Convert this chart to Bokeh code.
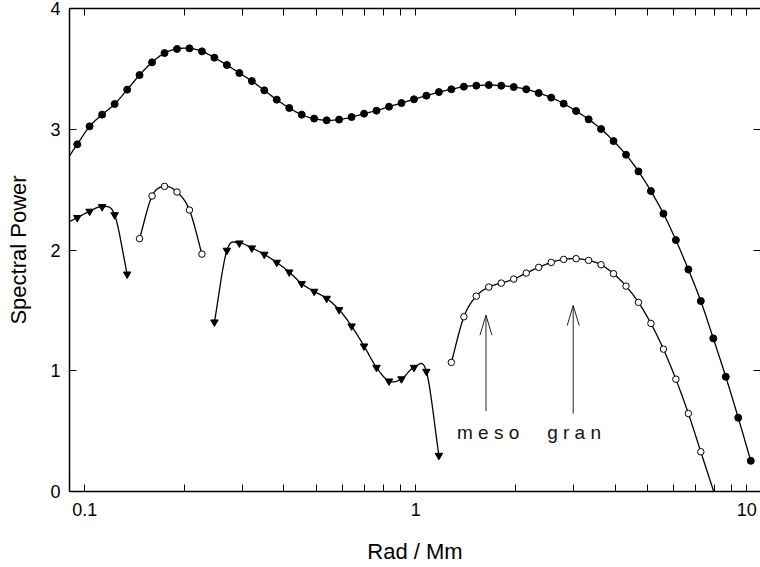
import numpy as np
from bokeh.plotting import figure
from bokeh.models import (LogAxis, LinearAxis, FixedTicker, Range1d,
                          CustomJSTickFormatter)
from bokeh.core.properties import value
from bokeh.embed import file_html
from bokeh.resources import INLINE

# ---------------- data ----------------
k_total = [0.0950, 0.1035, 0.1129, 0.1232, 0.1344, 0.1465, 0.1598, 0.1743, 0.1901,
           0.2073, 0.2261, 0.2466, 0.2689, 0.2933, 0.3199, 0.3488, 0.3804, 0.4150,
           0.4525, 0.4935, 0.5383, 0.5870, 0.6402, 0.6982, 0.7615, 0.8305, 0.9058,
           0.9879, 1.077, 1.175, 1.281, 1.398, 1.524, 1.662, 1.813, 1.977, 2.157,
           2.352, 2.566, 2.798, 3.051, 3.328, 3.629, 3.958, 4.317, 4.708, 5.133,
           5.600, 6.107, 6.660, 7.262, 7.922, 8.640, 9.422, 10.28]
p_total = [2.875, 3.024, 3.121, 3.209, 3.328, 3.449, 3.554, 3.631, 3.665, 3.670,
           3.645, 3.593, 3.532, 3.466, 3.399, 3.322, 3.245, 3.176, 3.121, 3.088,
           3.074, 3.080, 3.101, 3.129, 3.154, 3.187, 3.217, 3.248, 3.278, 3.308,
           3.331, 3.353, 3.361, 3.366, 3.361, 3.350, 3.331, 3.300, 3.262, 3.212,
           3.151, 3.082, 3.002, 2.902, 2.789, 2.651, 2.488, 2.301, 2.082, 1.839,
           1.577, 1.268, 0.950, 0.611, 0.254]

k_tri_a = [0.0950, 0.1035, 0.1129, 0.1232, 0.1344]
p_tri_a = [2.268, 2.320, 2.358, 2.291, 1.800]

k_open_a = [0.1465, 0.1598, 0.1743, 0.1901, 0.2073, 0.2261]
p_open_a = [2.094, 2.447, 2.527, 2.480, 2.331, 1.966]

k_tri_b = [0.2466, 0.2689, 0.2933, 0.3199, 0.3488, 0.3804, 0.4150, 0.4525, 0.4935,
           0.5383, 0.5870, 0.6402, 0.6982, 0.7615, 0.8305, 0.9058, 0.9879, 1.077, 1.175]
p_tri_b = [1.403, 1.997, 2.057, 2.016, 1.964, 1.897, 1.817, 1.721, 1.657,
           1.599, 1.505, 1.370, 1.204, 1.027, 0.914, 0.932, 1.027, 0.994, 0.298]

k_open_b = [1.281, 1.398, 1.524, 1.662, 1.813, 1.977, 2.157, 2.352, 2.566, 2.798,
            3.051, 3.328, 3.629, 3.958, 4.317, 4.708, 5.133, 5.600, 6.107, 6.660, 7.262]
p_open_b = [1.069, 1.447, 1.618, 1.693, 1.726, 1.759, 1.809, 1.856, 1.897, 1.922,
            1.928, 1.914, 1.878, 1.804, 1.701, 1.566, 1.392, 1.179, 0.930, 0.646, 0.329]

arrow_k = [1.63, 2.99]
arrow_tip = [1.46, 1.54]
arrow_tail = [0.665, 0.645]
label_k = [1.654, 3.008]
label_y = [0.489, 0.489]
label_text = ["m e s o", "g r a n"]

x_major_ticks = [0.1, 1, 10]
x_tick_labels = ["0.1", "1", "10"]
x_minor_ticks = [0.2, 0.3, 0.4, 0.5, 0.6, 0.7, 0.8, 0.9, 2, 3, 4, 5, 6, 7, 8, 9]
y_ticks = [0, 1, 2, 3, 4]
y_tick_labels = ["0", "1", "2", "3", "4"]

X_RANGE = (0.09, 11)
Y_RANGE = (0, 4)

# ---------------- styles ----------------
FONT = "Liberation Sans"
INK = "black"
LINE_W = 1.3
HEAD_LEN_PX = 20
HEAD_HALF_W_PX = 6
FRAME_W_PX = 690.5
FRAME_H_PX = 483.0


def smooth(xs, ys, steps=12):
    """Catmull-Rom curve through the points, in log-x space."""
    P = np.column_stack([np.log10(np.asarray(xs, float)), np.asarray(ys, float)])
    E = np.vstack([2 * P[0] - P[1], P, 2 * P[-1] - P[-2]])
    t = np.linspace(0, 1, steps, endpoint=False)[:, None]
    out = []
    for i in range(1, len(E) - 2):
        p0, p1, p2, p3 = E[i - 1], E[i], E[i + 1], E[i + 2]
        out.append(0.5 * (2 * p1 + (-p0 + p2) * t
                          + (2 * p0 - 5 * p1 + 4 * p2 - p3) * t ** 2
                          + (-p0 + 3 * p1 - 3 * p2 + p3) * t ** 3))
    out.append(P[-1:])
    A = np.vstack(out)
    return 10 ** A[:, 0], A[:, 1]


def extend_left(xs, ys, x0):
    u0, u1 = np.log10(xs[0]), np.log10(xs[1])
    y = ys[0] + (ys[1] - ys[0]) * (np.log10(x0) - u0) / (u1 - u0)
    return [x0] + list(xs), [y] + list(ys)


def extend_to(xs, ys, yf):
    u0, u1 = np.log10(xs[-2]), np.log10(xs[-1])
    slope = (ys[-1] - ys[-2]) / (u1 - u0)
    u = u1 + (yf - ys[-1]) / slope
    return list(xs) + [10 ** u], list(ys) + [yf]


p = figure(width=760, height=567, x_axis_type="log",
           x_range=Range1d(*X_RANGE), y_range=Range1d(*Y_RANGE),
           output_backend="svg", toolbar_location=None,
           min_border_left=69, min_border_right=0, min_border_top=8,
           min_border_bottom=76)
p.grid.visible = False
p.outline_line_color = None
p.background_fill_color = "white"
p.border_fill_color = "white"

xt = FixedTicker(ticks=x_major_ticks, minor_ticks=x_minor_ticks)
yt = FixedTicker(ticks=y_ticks)

xa = p.xaxis[0]
xa.ticker = xt
xa.formatter = CustomJSTickFormatter(code="return String(tick)")
xa.major_label_overrides = dict(zip(x_major_ticks, x_tick_labels))
ya = p.yaxis[0]
ya.ticker = yt
ya.major_label_overrides = dict(zip(y_ticks, y_tick_labels))

for ax in (xa, ya):
    ax.axis_line_color = INK
    ax.axis_line_width = 1.5
    ax.major_tick_in = 7
    ax.major_tick_out = 0
    ax.minor_tick_in = 7
    ax.minor_tick_out = 0
    ax.major_tick_line_color = INK
    ax.minor_tick_line_color = INK
    ax.major_label_text_font = FONT
    ax.major_label_text_font_size = "18px"
    ax.major_label_text_color = INK
    ax.axis_label_text_font = FONT
    ax.axis_label_text_font_size = "22px"
    ax.axis_label_text_font_style = "normal"
    ax.axis_label_text_color = INK
ya.minor_tick_line_color = None
xa.axis_label = "Rad / Mm"
ya.axis_label = "Spectral Power"
xa.major_label_standoff = 11
ya.major_label_standoff = 9
xa.axis_label_standoff = 20
ya.axis_label_standoff = 16

blank = CustomJSTickFormatter(code="return ''")
top = LogAxis(ticker=xt, formatter=blank, major_label_standoff=0,
              major_label_text_font_size="1px", major_label_text_color=None,
              major_tick_in=7, major_tick_out=0, minor_tick_in=7, minor_tick_out=0,
              axis_line_color=INK, axis_line_width=1.5)
p.add_layout(top, "above")
right = LinearAxis(ticker=yt, formatter=blank, major_label_standoff=0,
                   major_label_text_font_size="1px", major_label_text_color=None,
                   major_tick_in=7, major_tick_out=0, minor_tick_line_color=None,
                   axis_line_color=None)
p.add_layout(right, "right")

# ---------------- curves ----------------
cx, cy = smooth(*extend_left(k_total, p_total, X_RANGE[0]))
p.line(cx, cy, line_color=INK, line_width=LINE_W)
cx, cy = smooth(*extend_left(k_tri_a, p_tri_a, X_RANGE[0]))
p.line(cx, cy, line_color=INK, line_width=LINE_W)
cx, cy = smooth(k_open_a, p_open_a)
p.line(cx, cy, line_color=INK, line_width=LINE_W)
cx, cy = smooth(k_tri_b, p_tri_b)
p.line(cx, cy, line_color=INK, line_width=LINE_W)
cx, cy = smooth(*extend_to(k_open_b, p_open_b, Y_RANGE[0] - 0.05))
p.line(cx, cy, line_color=INK, line_width=LINE_W)

p.scatter(k_total, p_total, marker="circle", size=7, fill_color=INK, line_color=INK)
for kk, pp in ((k_tri_a, p_tri_a), (k_tri_b, p_tri_b)):
    p.scatter(kk, pp, marker="inverted_triangle", size=7.5, fill_color=INK, line_color=INK)
for kk, pp in ((k_open_a, p_open_a), (k_open_b, p_open_b)):
    p.scatter(kk, pp, marker="circle", size=6.5, fill_color="white", line_color=INK,
              line_width=1)

# ---------------- annotation arrows ----------------
dy = HEAD_LEN_PX * (Y_RANGE[1] - Y_RANGE[0]) / FRAME_H_PX
fx = 10 ** (HEAD_HALF_W_PX * np.log10(X_RANGE[1] / X_RANGE[0]) / FRAME_W_PX)
p.segment(x0=arrow_k, y0=arrow_tail, x1=arrow_k, y1=arrow_tip, line_color="#222222",
          line_width=1)
p.multi_line(xs=[[k / fx, k, k * fx] for k in arrow_k],
             ys=[[t - dy, t, t - dy] for t in arrow_tip],
             line_color="#222222", line_width=1)
p.text(x=label_k, y=label_y, text=label_text, text_font=value(FONT),
       text_font_size="19px", text_align="center", text_baseline="alphabetic",
       text_color="#111111")

open("out.html", "w").write(file_html(p, INLINE))
